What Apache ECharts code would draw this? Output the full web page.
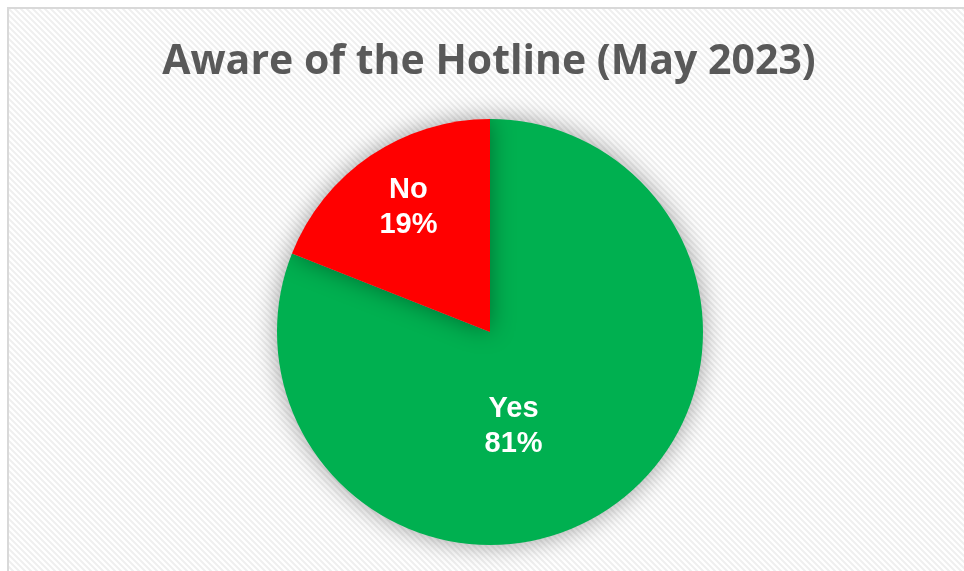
<!DOCTYPE html>
<html>
<head>
<meta charset="utf-8">
<script src="https://cdn.jsdelivr.net/npm/echarts@6/dist/echarts.min.js"></script>
<style>
  html, body { margin: 0; padding: 0; background: #ffffff; }
  #chart { width: 964px; height: 571px; }
</style>
</head>
<body>
<div id="chart"></div>
<script>
// Survey answers and shares (percent)
const categories = ['Yes', 'No'];
const shares = [81, 19];
const sliceColors = ['#00b050', '#ff0000'];
const chartTitle = 'Aware of the Hotline (May 2023)';

// Light diagonal hatching for the plot area
function makeHatch() {
  const c = document.createElement('canvas');
  c.width = 6; c.height = 6;
  const g = c.getContext('2d');
  g.fillStyle = '#ffffff';
  g.fillRect(0, 0, 6, 6);
  g.strokeStyle = '#efefef';
  g.lineWidth = 2;
  g.beginPath();
  g.moveTo(-3, -3); g.lineTo(9, 9);
  g.moveTo(-3, 3); g.lineTo(3, 9);
  g.moveTo(3, -3); g.lineTo(9, 3);
  g.stroke();
  return c;
}

const chart = echarts.init(document.getElementById('chart'));

const labelOffsets = [[-38, 4], [-20, -34]];

chart.setOption({
  animation: false,
  graphic: [{
    type: 'rect',
    z: -10,
    silent: true,
    shape: { x: 8, y: 8, width: 1000, height: 1000 },
    style: {
      fill: { image: makeHatch(), repeat: 'repeat' },
      stroke: '#d9d9d9',
      lineWidth: 2
    }
  }],
  title: {
    text: chartTitle,
    left: 484,
    textAlign: 'center',
    top: 37,
    textStyle: {
      fontFamily: 'Open Sans',
      fontWeight: 'bold',
      fontSize: 41,
      color: '#595959'
    }
  },
  series: [{
    type: 'pie',
    center: [490, 332],
    radius: [0, 213],
    startAngle: 90,
    clockwise: true,
    avoidLabelOverlap: false,
    itemStyle: {
      shadowBlur: 24,
      shadowColor: 'rgba(0,0,0,0.38)'
    },
    label: {
      show: true,
      position: 'inside',
      formatter: '{b}\n{c}%',
      color: '#ffffff',
      fontFamily: 'Liberation Sans',
      fontWeight: 'bold',
      fontSize: 29,
      lineHeight: 35
    },
    labelLine: { show: false },
    emphasis: { disabled: true },
    data: categories.map((name, i) => ({
      name: name,
      value: shares[i],
      itemStyle: { color: sliceColors[i] },
      label: { offset: labelOffsets[i] }
    }))
  }]
});
</script>
</body>
</html>
